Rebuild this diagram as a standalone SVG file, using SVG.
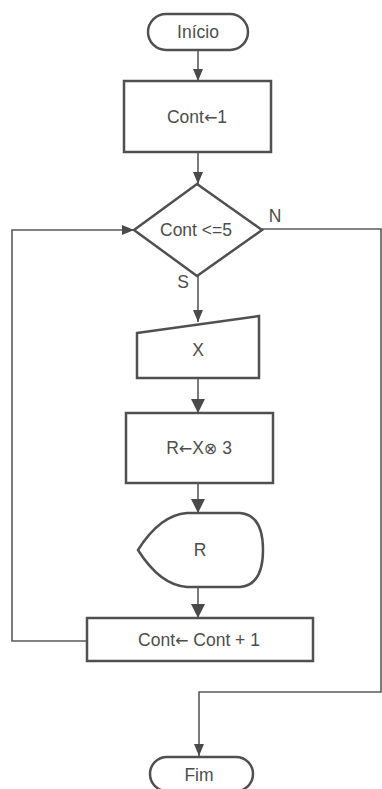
<svg xmlns="http://www.w3.org/2000/svg" width="382" height="789" viewBox="0 0 382 789">
<defs>
<style>
.shape{fill:#fff;stroke:#505050;stroke-width:2.5}
.conn{fill:none;stroke:#5a5a5a;stroke-width:1.6}
.t{font-family:"Liberation Sans",Arial,sans-serif;font-size:17.5px;fill:#4d4d4d;text-anchor:middle;dominant-baseline:central}
.ar{font-family:"DejaVu Sans",sans-serif;font-size:16px}
</style>
<marker id="ah" viewBox="0 0 12 10" refX="12" refY="5" markerWidth="12" markerHeight="10" markerUnits="userSpaceOnUse" orient="auto">
<path d="M0,0 L12,5 L0,10 z" fill="#4a4a4a"/>
</marker>
<marker id="ahb" viewBox="0 0 14 14" refX="14" refY="7" markerWidth="14" markerHeight="14" orient="auto" markerUnits="userSpaceOnUse">
<path d="M0,0 L14,7 L0,14 z" fill="#4a4a4a"/>
</marker>
</defs>
<rect width="382" height="789" fill="#fff"/>
<g id="connectors">
<path class="conn" d="M198,50 V81" marker-end="url(#ah)"/>
<path class="conn" d="M198,152 V184" marker-end="url(#ah)"/>
<path class="conn" d="M198,276 V322" marker-end="url(#ah)"/>
<path class="conn" d="M198,378 V413" marker-end="url(#ahb)"/>
<path class="conn" d="M198,483 V513" marker-end="url(#ahb)"/>
<path class="conn" d="M198,587 V618" marker-end="url(#ahb)"/>
<path class="conn" d="M87,641 H12 V230 H134" marker-end="url(#ah)"/>
<path class="conn" d="M262,229 H381 V692 H199 V756" marker-end="url(#ah)"/>
</g>
<g id="inicio">
<rect class="shape" x="148" y="14" width="100" height="36" rx="18" ry="18"/>
<text class="t" x="198" y="32">Início</text>
</g>
<g id="cont1">
<rect class="shape" x="124" y="81" width="147" height="71"/>
<text class="t" x="197" y="117">Cont<tspan class="ar">←</tspan>1</text>
</g>
<g id="decisao">
<path class="shape" d="M197,184 L262,230 L197,276 L134,230 Z"/>
<text class="t" x="196" y="230">Cont &lt;=5</text>
<text class="t" x="275" y="216">N</text>
<text class="t" x="183" y="282">S</text>
</g>
<g id="leitura">
<path class="shape" d="M137,333 L259,316 L259,378 L137,378 Z"/>
<text class="t" x="198" y="350">X</text>
</g>
<g id="calculo">
<rect class="shape" x="126" y="413" width="147" height="70"/>
<text class="t" x="199" y="448">R<tspan class="ar">←</tspan>X<tspan class="ar">⊗</tspan> 3</text>
</g>
<g id="exibe">
<path class="shape" d="M138,550 Q160,515 187,513 L240,513 Q263,515 263,550 Q263,585 240,587 L187,587 Q160,585 138,550 Z"/>
<text class="t" x="200" y="550">R</text>
</g>
<g id="incremento">
<rect class="shape" x="87" y="618" width="226" height="43"/>
<text class="t" x="199" y="640">Cont<tspan class="ar">←</tspan> Cont + 1</text>
</g>
<g id="fim">
<rect class="shape" x="150" y="757" width="103" height="34" rx="17" ry="17"/>
<text class="t" x="199" y="775">Fim</text>
</g>
</svg>
